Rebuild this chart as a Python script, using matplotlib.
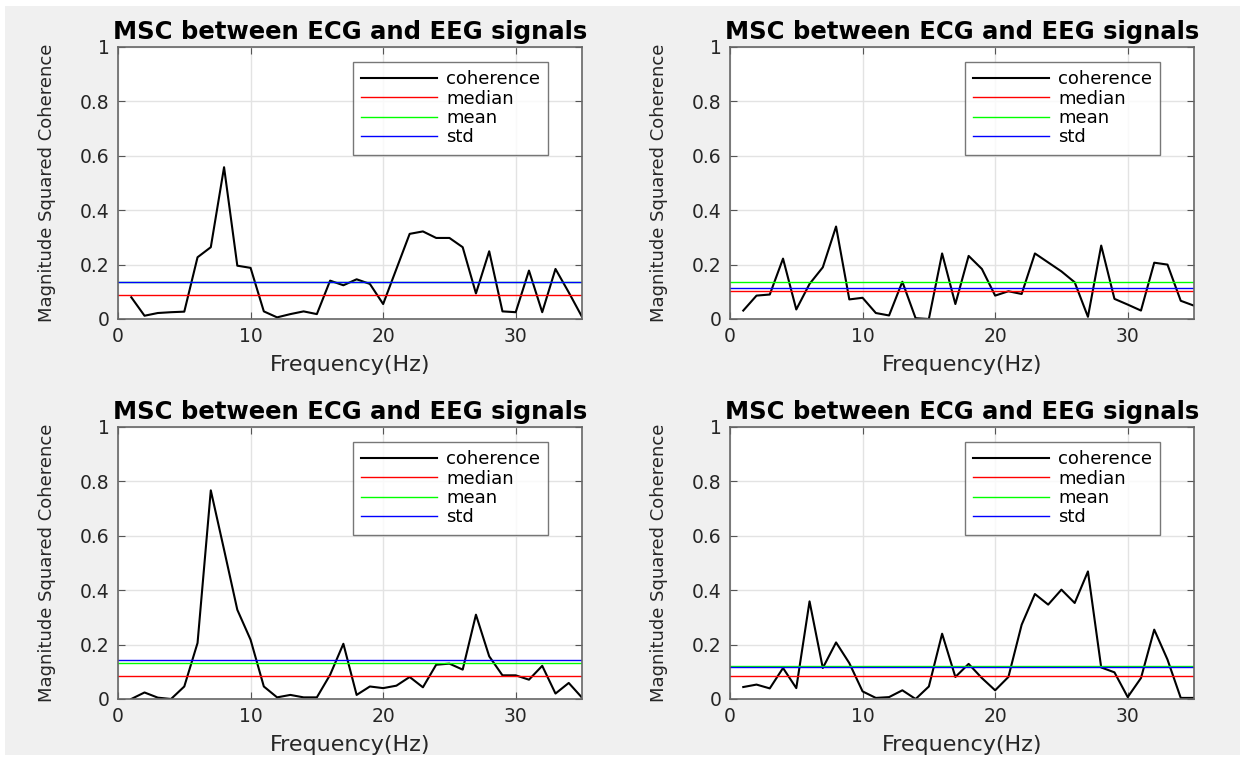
import numpy as np
import matplotlib
matplotlib.use("Agg")
from matplotlib import pyplot as plt
from matplotlib.patches import Rectangle

plt.rcParams['font.family'] = ['DejaVu Sans']

# frequency bins (Hz)
freq = list(range(1, 36))

# coherence (top-left, top-right, bottom-left, bottom-right)
coh_tl = [0.08, 0.012, 0.022, 0.025, 0.027, 0.227, 0.264, 0.558, 0.196, 0.188,
          0.028, 0.006, 0.018, 0.028, 0.018, 0.141, 0.124, 0.146, 0.129, 0.055,
          0.184, 0.313, 0.322, 0.298, 0.298, 0.264, 0.094, 0.249, 0.028, 0.025,
          0.178, 0.025, 0.184, 0.098, 0.008]
coh_tr = [0.031, 0.086, 0.09, 0.222, 0.035, 0.129, 0.19, 0.34, 0.072, 0.078,
          0.022, 0.013, 0.137, 0.003, 0.0, 0.241, 0.055, 0.232, 0.184, 0.086,
          0.102, 0.092, 0.241, 0.208, 0.175, 0.135, 0.008, 0.27, 0.074, 0.053,
          0.031, 0.207, 0.2, 0.067, 0.049]
coh_bl = [0.0, 0.024, 0.005, 0.0, 0.046, 0.206, 0.767, 0.549, 0.328, 0.218,
          0.046, 0.006, 0.015, 0.006, 0.006, 0.089, 0.203, 0.015, 0.046, 0.04,
          0.049, 0.081, 0.043, 0.126, 0.13, 0.108, 0.31, 0.157, 0.087, 0.087,
          0.071, 0.122, 0.02, 0.059, 0.005]
coh_br = [0.044, 0.053, 0.039, 0.114, 0.04, 0.359, 0.114, 0.208, 0.132, 0.028,
          0.004, 0.007, 0.032, 0.0, 0.046, 0.24, 0.081, 0.129, 0.077, 0.032,
          0.081, 0.273, 0.386, 0.347, 0.402, 0.353, 0.469, 0.116, 0.098, 0.007,
          0.077, 0.255, 0.145, 0.004, 0.004]

# reference levels per panel
medians = [0.088, 0.103, 0.085, 0.085]
means = [0.137, 0.137, 0.133, 0.121]
stds = [0.136, 0.114, 0.143, 0.116]

panels = [coh_tl, coh_tr, coh_bl, coh_br]
legend_labels = ['coherence', 'median', 'mean', 'std']
yticks = [0, 0.2, 0.4, 0.6, 0.8, 1]
ytick_labels = ['0', '0.2', '0.4', '0.6', '0.8', '1']
xticks = [0, 10, 20, 30]

W, H = 1244, 759
fig = plt.figure(figsize=(W / 100, H / 100), dpi=100, facecolor='white')
fig.patches.append(Rectangle((5 / W, 4 / H), 1235 / W, 749 / H,
                             transform=fig.transFigure, facecolor='#f0f0f0',
                             edgecolor='none', zorder=-10))

# axes boxes in pixels: left, top
boxes = [(118, 47), (730, 47), (118, 427), (730, 427)]
aw, ah = 464, 272

for coh, med, mn, sd, (px, py) in zip(panels, medians, means, stds, boxes):
    ax = fig.add_axes([px / W, 1 - (py + ah) / H, aw / W, ah / H])
    ax.plot(freq, coh, color='black', lw=1.5, label=legend_labels[0])
    ax.axhline(med, color=(1, 0, 0), lw=1.0, label=legend_labels[1])
    ax.axhline(mn, color=(0, 1, 0), lw=1.0, label=legend_labels[2])
    ax.axhline(sd, color=(0, 0, 1), lw=1.0, label=legend_labels[3])
    ax.set_xlim(0, 35)
    ax.set_ylim(0, 1)
    ax.set_xticks(xticks)
    ax.set_yticks(yticks)
    ax.set_yticklabels(ytick_labels)
    ax.grid(True, color='#e3e3e3', lw=1.0)
    ax.set_axisbelow(True)
    ax.tick_params(direction='in', length=5, top=True, right=True,
                   labelsize=13.5, colors='#555555', labelcolor='#262626',
                   pad=6)
    for s in ax.spines.values():
        s.set_color('#666666')
        s.set_linewidth(1.2)
    ax.set_title('MSC between ECG and EEG signals', fontsize=17.5,
                 fontweight='bold', pad=6)
    ax.set_xlabel('Frequency(Hz)', fontsize=16, color='#262626', labelpad=6)
    ax.set_ylabel('Magnitude Squared Coherence', fontsize=13,
                  color='#262626', labelpad=17)
    ax.legend(loc='upper right', bbox_to_anchor=(0.927, 0.945), fontsize=13,
              frameon=True, fancybox=False, edgecolor='#555555',
              handlelength=4.2, labelspacing=0.08, borderpad=0.45,
              handletextpad=0.5, borderaxespad=0.0)

plt.savefig('out.png', dpi=100, facecolor=fig.get_facecolor())
